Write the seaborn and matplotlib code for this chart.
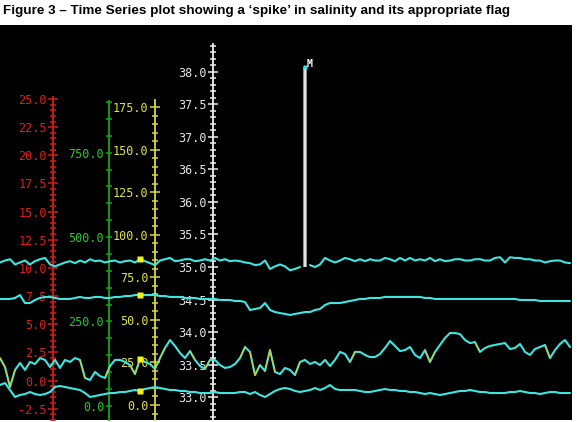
import numpy as np
import pandas as pd
import matplotlib.pyplot as plt
import seaborn as sns
from matplotlib.ticker import FixedLocator, FormatStrFormatter

sns.set_theme(style="dark")
plt.rcParams['font.family'] = ['Liberation Sans', 'DejaVu Sans']

# ==========================================
# Data (one sample every 5 time steps)
# ==========================================
time_step = np.arange(0, 575, 5)

salinity = [
    35.07, 35.10, 35.12, 35.04, 35.07, 35.10, 35.04, 35.09, 35.12, 35.14,
    35.04, 35.01, 35.04, 35.07, 35.09, 35.06, 35.10, 35.07, 35.12, 35.09,
    35.10, 35.07, 35.09, 35.10, 35.07, 35.09, 35.10, 35.07, 35.12, 35.09,
    35.06, 35.03, 35.10, 35.12, 35.14, 35.09, 35.10, 35.12, 35.12, 35.09,
    35.10, 35.12, 35.10, 35.14, 35.10, 35.12, 35.09, 35.10, 35.09, 35.07,
    35.06, 35.03, 35.04, 35.10, 34.97, 35.01, 35.04, 35.01, 34.95, 34.97,
    35.00, 38.07, 35.03, 35.00, 35.04, 35.14, 35.10, 35.07, 35.10, 35.14,
    35.12, 35.09, 35.12, 35.09, 35.12, 35.10, 35.10, 35.14, 35.12, 35.09,
    35.14, 35.10, 35.14, 35.10, 35.12, 35.10, 35.14, 35.09, 35.12, 35.09,
    35.10, 35.12, 35.12, 35.10, 35.10, 35.12, 35.12, 35.10, 35.10, 35.14,
    35.15, 35.07, 35.15, 35.14, 35.14, 35.12, 35.12, 35.10, 35.10, 35.07,
    35.09, 35.10, 35.10, 35.07, 35.06,
]

temperature = [
    7.24, 7.24, 7.24, 7.33, 7.59, 6.88, 6.88, 7.15, 7.33, 7.42,
    7.42, 7.33, 7.24, 7.24, 7.24, 7.33, 7.42, 7.33, 7.33, 7.42,
    7.42, 7.33, 7.33, 7.42, 7.42, 7.50, 7.50, 7.59, 7.59, 7.59,
    7.59, 7.59, 7.50, 7.50, 7.42, 7.42, 7.42, 7.33, 7.33, 7.33,
    7.24, 7.24, 7.24, 7.24, 7.15, 7.15, 7.15, 7.06, 7.06, 6.97,
    6.26, 6.35, 6.44, 6.88, 6.26, 6.08, 5.99, 5.91, 5.82, 5.91,
    5.99, 6.08, 6.08, 6.26, 6.35, 6.71, 6.88, 6.88, 6.88, 6.97,
    7.06, 7.15, 7.24, 7.24, 7.33, 7.33, 7.33, 7.42, 7.42, 7.42,
    7.42, 7.42, 7.42, 7.42, 7.42, 7.33, 7.33, 7.24, 7.24, 7.24,
    7.24, 7.24, 7.24, 7.24, 7.24, 7.24, 7.24, 7.24, 7.24, 7.24,
    7.24, 7.24, 7.24, 7.24, 7.15, 7.15, 7.15, 7.15, 7.06, 7.06,
    7.06, 7.06, 7.06, 7.06, 7.06,
]

fluorescence = [
    27.6, 22.3, 10.6, 20.6, 24.7, 20.6, 25.3, 24.1, 27.6, 26.5,
    22.3, 26.5, 21.8, 26.5, 25.3, 27.6, 26.5, 15.9, 14.7, 19.4,
    17.0, 15.9, 22.9, 26.5, 26.5, 25.3, 23.5, 18.2, 27.0, 25.3,
    24.1, 21.2, 27.6, 33.5, 38.2, 34.7, 30.6, 27.6, 31.7, 26.5,
    22.9, 21.2, 26.5, 26.5, 23.5, 21.8, 22.3, 24.1, 27.6, 34.1,
    31.2, 17.6, 23.5, 20.0, 32.3, 19.4, 18.2, 21.8, 20.6, 17.6,
    25.3, 26.5, 24.1, 25.3, 23.5, 26.5, 22.9, 26.5, 31.2, 30.0,
    25.3, 31.2, 31.2, 29.4, 28.2, 28.2, 30.0, 33.5, 37.6, 34.7,
    31.7, 32.3, 34.1, 29.4, 27.6, 32.3, 25.3, 31.2, 35.3, 39.4,
    42.3, 42.3, 41.7, 38.2, 36.4, 37.0, 31.2, 33.5, 34.7, 35.3,
    35.9, 36.4, 32.9, 33.5, 35.9, 31.2, 29.4, 32.9, 34.1, 35.3,
    27.6, 32.3, 35.9, 38.2, 34.1,
]

oxygen = [
    61.6, 67.6, 46.8, 26.1, 32.0, 34.9, 40.9, 34.9, 32.0, 34.9,
    40.9, 55.7, 58.7, 55.7, 52.7, 49.8, 46.8, 37.9, 26.1, 29.0,
    32.0, 34.9, 37.9, 37.9, 40.9, 40.9, 43.9, 46.8, 43.9, 49.8,
    52.7, 55.7, 52.7, 49.8, 46.8, 46.8, 43.9, 43.9, 40.9, 40.9,
    37.9, 37.9, 37.9, 40.9, 37.9, 37.9, 37.9, 37.9, 40.9, 40.9,
    34.9, 40.9, 32.0, 26.1, 34.9, 43.9, 49.8, 52.7, 49.8, 43.9,
    40.9, 43.9, 46.8, 52.7, 46.8, 52.7, 61.6, 49.8, 46.8, 46.8,
    46.8, 46.8, 43.9, 40.9, 40.9, 43.9, 46.8, 49.8, 46.8, 46.8,
    43.9, 43.9, 40.9, 40.9, 37.9, 34.9, 37.9, 34.9, 32.0, 34.9,
    37.9, 40.9, 43.9, 43.9, 46.8, 43.9, 40.9, 40.9, 37.9, 37.9,
    37.9, 37.9, 40.9, 40.9, 43.9, 40.9, 37.9, 37.9, 34.9, 37.9,
    40.9, 40.9, 37.9, 37.9, 37.9,
]

flag_time = 305
flag_label = "M"
cursor_time = 140

title = "Figure 3 \u2013 Time Series plot showing a \u2018spike\u2019 in salinity and its appropriate flag"

# ==========================================
# Layout / styles
# ==========================================
CYAN = "#3ee6e2"
YELLOW_MARK = "#f2f21c"
PANEL = [0.0, 2 / 422, 572 / 577, 395 / 422]

fig = plt.figure(figsize=(5.77, 4.22), dpi=100)
fig.text(3 / 577, 1 - 11 / 422, title, fontsize=9.7, fontweight="bold", va="center", ha="left", color="black")

base = fig.add_axes(PANEL)
base.set_facecolor("black")
base.set_xlim(0, 572)
base.set_xticks([])
base.set_yticks([])
for s in base.spines.values():
    s.set_visible(False)


def make_scale(xfrac, ylim, top, majors, minors, line_color, text_color, major_len=7, minor_len=4):
    ax = fig.add_axes(PANEL, sharex=base)
    ax.patch.set_visible(False)
    ax.set_ylim(*ylim)
    for side in ["top", "right", "bottom"]:
        ax.spines[side].set_visible(False)
    ax.spines["left"].set_position(("axes", xfrac))
    ax.spines["left"].set_bounds(ylim[0], top)
    ax.spines["left"].set_color(line_color)
    ax.spines["left"].set_linewidth(1.3)
    ax.xaxis.set_visible(False)
    ax.yaxis.set_major_locator(FixedLocator(majors))
    ax.yaxis.set_minor_locator(FixedLocator(minors))
    ax.yaxis.set_major_formatter(FormatStrFormatter("%.1f"))
    ax.tick_params(axis="y", which="both", left=True, direction="inout", color=line_color,
                   labelcolor=text_color, width=1.1, labelsize=8.5, labelfontfamily="DejaVu Sans Mono")
    ax.tick_params(axis="y", which="major", length=major_len, pad=1)
    ax.tick_params(axis="y", which="minor", length=minor_len)
    ax.grid(False)
    return ax


red_ax = make_scale(53 / 572, (-3.508, 31.572), 25.18,
                    np.arange(-2.5, 25.1, 2.5), np.arange(-3.5, 25.1, 0.5), "#d41c1c", "#e01e1e")
green_ax = make_scale(109 / 572, (-42.08, 1128.4), 903,
                      np.arange(0, 751, 250), np.arange(0, 901, 50), "#14a814", "#2cc82c", 5, 5)
yellow_ax = make_scale(155 / 572, (-8.818, 223.4), 179.3,
                       np.arange(0, 176, 25), np.arange(-5, 180, 5), "#d8d840", "#e2e24a")
white_ax = make_scale(212.5 / 572, (32.651, 38.717), 38.425,
                      np.arange(33.0, 38.01, 0.5), np.arange(32.7, 38.41, 0.1), "#f0f0f0", "#e6e6e6")


def data_layer(scale_ax):
    ax = fig.add_axes(PANEL, sharex=base, sharey=scale_ax)
    ax.set_axis_off()
    return ax


sal_ax = data_layer(white_ax)
tmp_ax = data_layer(red_ax)
flu_ax = data_layer(yellow_ax)
oxy_ax = data_layer(green_ax)

# --- salinity with the flagged spike ---
sal_df = pd.DataFrame({"time": time_step, "value": salinity})
is_flag = sal_df["time"] == flag_time
good = sal_df[~is_flag].copy()
good["segment"] = (good["time"] > flag_time).astype(int)
sns.lineplot(data=good, x="time", y="value", units="segment", estimator=None,
             color=CYAN, lw=1.5, ax=sal_ax, legend=False)
spike_val = sal_df.loc[is_flag, "value"].iloc[0]
idx = int(np.where(is_flag)[0][0])
spike_base = min(salinity[idx - 1], salinity[idx + 1])
sal_ax.vlines(flag_time, spike_base, spike_val, color="#8c8c8c", lw=3.0)
sal_ax.vlines(flag_time, spike_base, spike_val, color="white", lw=1.1)
sal_ax.plot([flag_time], [spike_val], marker="s", ms=2.5, color=CYAN, mec="none")
sal_ax.annotate(flag_label, (flag_time, spike_val), xytext=(1, 2), textcoords="offset points",
                color="white", fontsize=7, fontweight="bold", family="DejaVu Sans Mono", ha="left", va="center")

# --- temperature ---
sns.lineplot(x=time_step, y=temperature, color=CYAN, lw=1.5, ax=tmp_ax, estimator=None)

# --- fluorescence: cyan trace with yellow on the steep steps ---
sns.lineplot(x=time_step, y=fluorescence, color=CYAN, lw=1.5, ax=flu_ax, estimator=None)
flu = np.array(fluorescence)
for i in np.where(np.abs(np.diff(flu)) > 5)[0]:
    flu_ax.plot(time_step[i:i + 2], flu[i:i + 2], color="#cccc30", lw=0.8)

# --- oxygen ---
sns.lineplot(x=time_step, y=oxygen, color=CYAN, lw=1.5, ax=oxy_ax, estimator=None)

# --- cursor markers ---
ci = int(np.where(time_step == cursor_time)[0][0])
for ax, series in [(sal_ax, salinity), (tmp_ax, temperature), (flu_ax, fluorescence), (oxy_ax, oxygen)]:
    ax.plot([cursor_time], [series[ci]], marker="s", ms=4.5, color=YELLOW_MARK, mec="none")

base.set_xlim(0, 572)
fig.savefig("out.png", dpi=100, facecolor="white")
